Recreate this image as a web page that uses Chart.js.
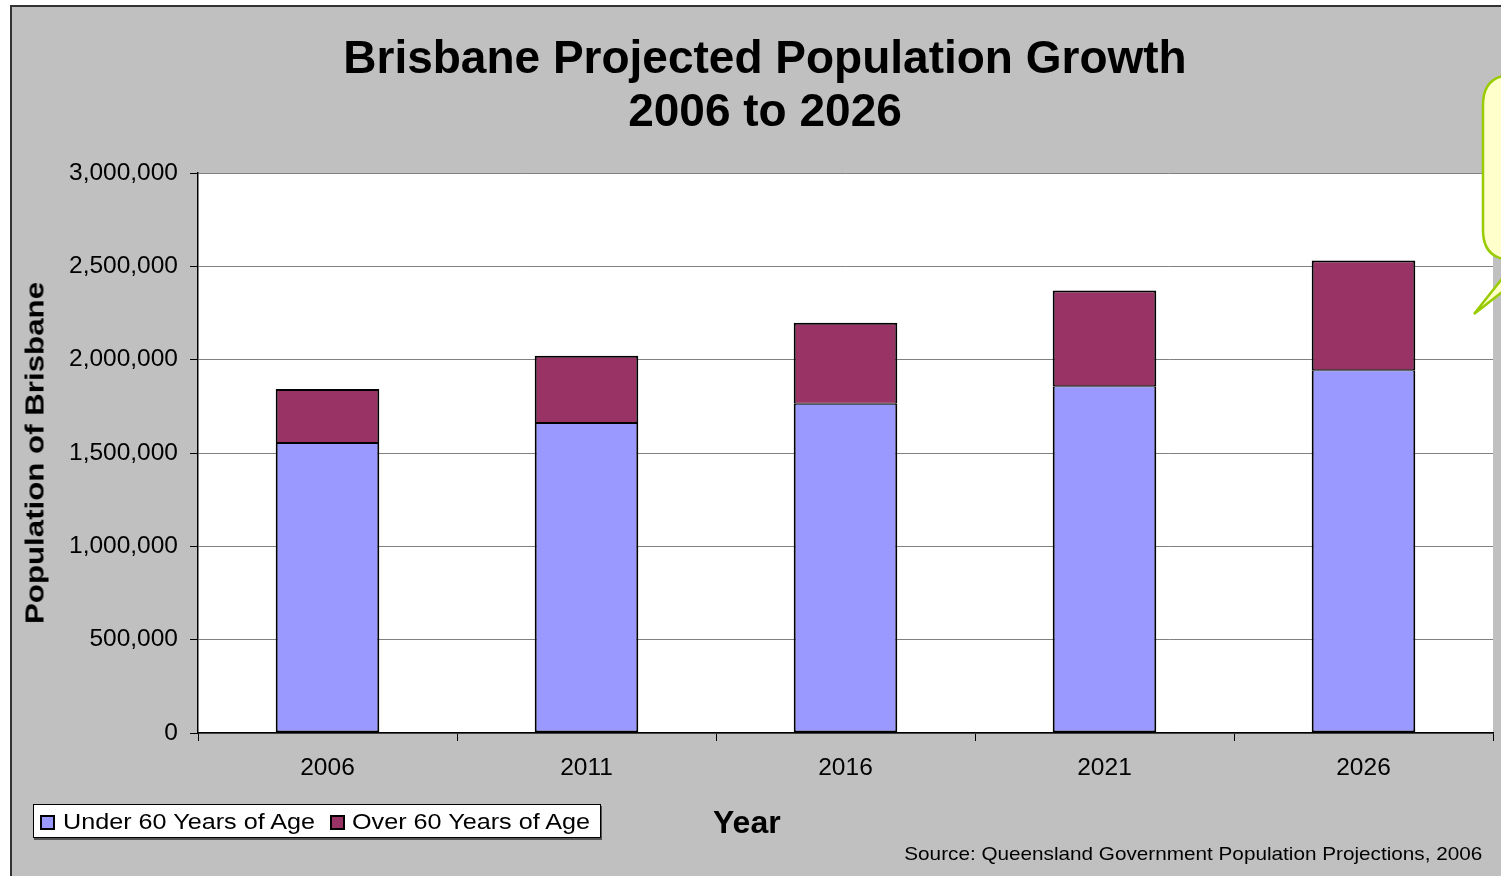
<!DOCTYPE html>
<html>
<head>
<meta charset="utf-8">
<title>Brisbane Projected Population Growth</title>
<script src="https://cdn.jsdelivr.net/npm/chart.js@4/dist/chart.umd.min.js"></script>
<style>
  html, body { margin: 0; padding: 0; background: #fff; overflow: hidden; }
  body { width: 1501px; height: 876px; position: relative; font-family: "Liberation Sans", Arial, sans-serif; }
  .frame {
    position: absolute; left: 10px; top: 5px; width: 1520px; height: 900px;
    background: #c0c0c0; border-left: 2px solid #333; border-top: 2px solid #333;
    box-sizing: border-box;
  }
  #popChart { position: absolute; left: 0; top: 0; }
  .title {
    position: absolute; left: 0; width: 1530px; text-align: center;
    font-weight: bold; font-size: 46px; line-height: 46px; color: #000; white-space: nowrap;
  }
  .ytitle {
    position: absolute; left: 35px; top: 453px; font-weight: bold; font-size: 25px; line-height: 25px;
    white-space: nowrap; transform: translate(-50%, -50%) rotate(-90deg) scaleX(1.25);
  }
  .xtitle { position: absolute; left: 713px; top: 806px; font-weight: bold; font-size: 32px; line-height: 32px; }
  .source {
    position: absolute; right: 19px; top: 844px; font-size: 19px; line-height: 19px; white-space: nowrap;
    transform: scaleX(1.09); transform-origin: right center;
  }
  .legend {
    position: absolute; left: 33px; top: 804px; width: 568px; height: 34px; box-sizing: border-box;
    background: #fff; border: 1px solid #000; box-shadow: 1px 2px 0 #555;
  }
  .legend .swatch { position: absolute; top: 10px; width: 15px; height: 15px; box-sizing: border-box; border: 2px solid #000; }
  .legend .label {
    position: absolute; top: 6px; font-size: 22px; line-height: 22px; white-space: nowrap;
    transform: scaleX(1.145); transform-origin: left center;
  }
  #callout { position: absolute; left: 0; top: 0; }
</style>
</head>
<body>
<div class="frame"></div>
<canvas id="popChart" width="1501" height="876"></canvas>
<div class="title" style="top:34px">Brisbane Projected Population Growth</div>
<div class="title" style="top:87px">2006 to 2026</div>
<div class="ytitle">Population of Brisbane</div>
<div class="xtitle">Year</div>
<div class="legend" id="legend"></div>
<div class="source">Source: Queensland Government Population Projections, 2006</div>
<svg id="callout" width="1501" height="876">
  <path d="M1513 75 L1600 75 L1600 260 L1543 260 L1474 314 L1517 260 L1513 260 Q1483 260 1483 230 L1483 105 Q1483 75 1513 75 Z"
        fill="#ffffcc" stroke="#99cc00" stroke-width="2.5" stroke-linejoin="miter"/>
</svg>
<script>
// projection years and population split by age group
const years = ['2006', '2011', '2016', '2021', '2026'];
const under60 = [1554000, 1661000, 1764000, 1857000, 1943000];
const over60 = [289000, 360000, 434000, 513000, 588000];
const seriesNames = ['Under 60 Years of Age', 'Over 60 Years of Age'];
const seriesColors = ['#9999ff', '#993366'];

// white plot area behind the bars
const plotBackground = {
  id: 'plotBackground',
  beforeDraw(chart) {
    const { ctx, chartArea } = chart;
    ctx.save();
    ctx.fillStyle = '#fff';
    ctx.fillRect(chartArea.left, chartArea.top, chartArea.right - chartArea.left, chartArea.bottom - chartArea.top);
    ctx.restore();
  }
};

function buildLegend() {
  const legend = document.getElementById('legend');
  const swatchX = [6, 296];
  const labelX = [29, 318];
  seriesNames.forEach((name, i) => {
    const sw = document.createElement('div');
    sw.className = 'swatch';
    sw.style.left = swatchX[i] + 'px';
    sw.style.background = seriesColors[i];
    legend.appendChild(sw);
    const lb = document.createElement('div');
    lb.className = 'label';
    lb.style.left = labelX[i] + 'px';
    lb.textContent = name;
    legend.appendChild(lb);
  });
}

function initChart() {
  const ctx = document.getElementById('popChart').getContext('2d');
  Chart.defaults.font.family = '"Liberation Sans", Arial, sans-serif';
  Chart.defaults.color = '#000';

  new Chart(ctx, {
    type: 'bar',
    data: {
      labels: years,
      datasets: [
        {
          label: seriesNames[0],
          data: under60,
          backgroundColor: seriesColors[0],
          borderColor: '#000',
          // the join with the upper segment only needs one thin edge
          borderWidth: { top: 1, left: 2, right: 2, bottom: 2 },
          borderSkipped: false
        },
        {
          label: seriesNames[1],
          data: over60,
          backgroundColor: seriesColors[1],
          borderColor: '#000',
          borderWidth: { top: 2, left: 2, right: 2, bottom: 1 },
          borderSkipped: false
        }
      ]
    },
    options: {
      responsive: false,
      animation: false,
      layout: {
        padding: { left: 10, top: 173, right: 8, bottom: 0 }
      },
      datasets: {
        bar: { barPercentage: 0.4, categoryPercentage: 1 }
      },
      plugins: {
        legend: { display: false },
        title: { display: false },
        tooltip: { enabled: false }
      },
      scales: {
        x: {
          stacked: true,
          afterFit(scale) { scale.height = 143; },
          grid: {
            drawOnChartArea: false,
            tickLength: 8,
            tickColor: '#000',
            offset: true
          },
          border: { color: '#000', width: 1.5 },
          ticks: {
            font: { size: 24.5 },
            color: '#000',
            padding: 13
          }
        },
        y: {
          stacked: true,
          min: 0,
          max: 3000000,
          afterFit(scale) { scale.width = 188; },
          grid: {
            color: '#808080',
            lineWidth: 1,
            tickLength: 8,
            tickColor: '#000'
          },
          border: { color: '#000', width: 1.5 },
          ticks: {
            stepSize: 500000,
            font: { size: 24.5 },
            color: '#000',
            padding: 12,
            callback: v => v.toLocaleString('en-US')
          }
        }
      }
    },
    plugins: [plotBackground]
  });
}

buildLegend();
initChart();
</script>
</body>
</html>
